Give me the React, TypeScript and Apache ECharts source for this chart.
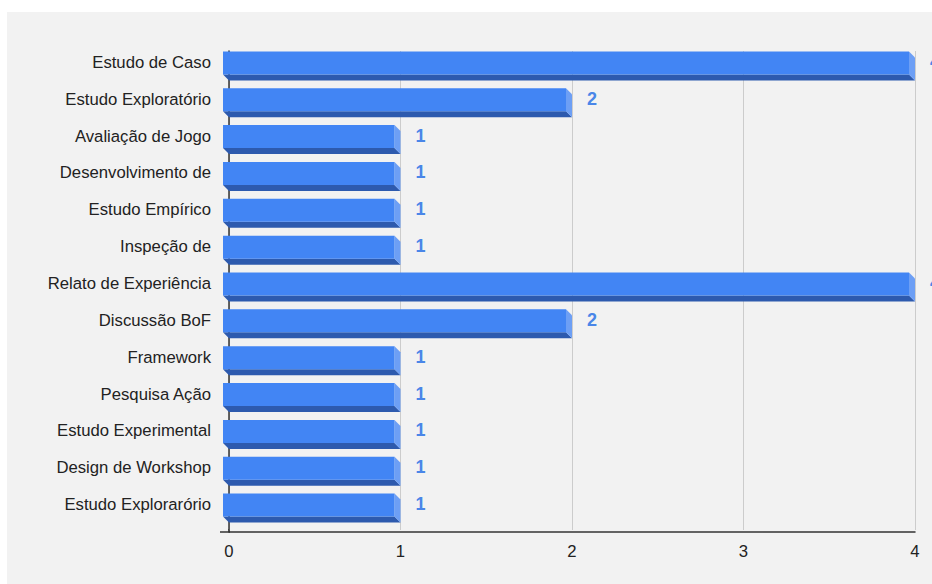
import React, { useEffect, useRef } from "react";
import * as echarts from "echarts";

const categories = [
  "Estudo de Caso",
  "Estudo Exploratório",
  "Avaliação de Jogo",
  "Desenvolvimento de",
  "Estudo Empírico",
  "Inspeção de",
  "Relato de Experiência",
  "Discussão BoF",
  "Framework",
  "Pesquisa Ação",
  "Estudo Experimental",
  "Design de Workshop",
  "Estudo Explorarório",
];
const values = [4, 2, 1, 1, 1, 1, 4, 2, 1, 1, 1, 1, 1];
const xTicks = [0, 1, 2, 3, 4];

const FONT = "'Liberation Sans', Arial, sans-serif";

export default function App() {
  const ref = useRef<HTMLDivElement>(null);
  useEffect(() => {
    if (!ref.current) return;
    const chart = echarts.init(ref.current, undefined, { renderer: "svg" });
    const D = 6;
    const H = 23;
    chart.setOption({
      animation: false,
      backgroundColor: "transparent",
      grid: { left: 229, right: 17, top: 51, bottom: 54 },
      graphic: [
        {
          type: "line",
          shape: { x1: 220, y1: 532, x2: 230, y2: 532 },
          style: { stroke: "#333", lineWidth: 1.5 },
        },
        {
          type: "line",
          shape: { x1: 229, y1: 529, x2: 229, y2: 532 },
          style: { stroke: "#333", lineWidth: 1.5 },
        },
      ],
      xAxis: {
        type: "value",
        min: xTicks[0],
        max: xTicks[xTicks.length - 1],
        interval: 1,
        offset: 2,
        axisLine: { show: true, lineStyle: { color: "#333", width: 1.5 } },
        axisTick: { show: false },
        splitLine: { show: true, lineStyle: { color: "#cccccc", width: 1 } },
        axisLabel: { color: "#222", fontSize: 16.7, fontFamily: FONT, margin: 11 },
      },
      yAxis: {
        type: "category",
        inverse: true,
        data: categories,
        axisLine: { show: true, lineStyle: { color: "#333", width: 1.5 } },
        axisTick: { show: false },
        splitLine: { show: false },
        axisLabel: {
          color: "#222",
          fontSize: 16.7,
          fontFamily: FONT,
          margin: 18,
          verticalAlign: "bottom",
          lineHeight: 14,
        },
      },
      series: [
        {
          type: "custom",
          clip: false,
          data: values.map((v, i) => [v, i]),
          encode: { x: 0, y: 1 },
          renderItem: (params: any, api: any) => {
            const v = api.value(0);
            const i = api.value(1);
            const end = api.coord([v, i]);
            const start = api.coord([0, i]);
            const x0 = start[0];
            const x1 = end[0];
            const cy = end[1] - 0.5;
            const yt = cy - H / 2;
            const yb = cy + H / 2;
            return {
              type: "group",
              children: [
                {
                  type: "polygon",
                  shape: {
                    points: [
                      [x0 - D, yb - D],
                      [x1 - D, yb - D],
                      [x1, yb],
                      [x0, yb],
                    ],
                  },
                  style: { fill: "#2d5aae" },
                },
                {
                  type: "polygon",
                  shape: {
                    points: [
                      [x1 - D, yt - D],
                      [x1, yt],
                      [x1, yb],
                      [x1 - D, yb - D],
                    ],
                  },
                  style: { fill: "#6d9ff5" },
                },
                {
                  type: "rect",
                  shape: { x: x0 - D, y: yt - D, width: x1 - x0, height: H },
                  style: { fill: "#4285f4" },
                },
                {
                  type: "text",
                  x: x1 + 15,
                  y: cy - D - 1,
                  style: {
                    text: String(v),
                    fill: "#4a86e8",
                    font: `bold 18px ${FONT}`,
                    verticalAlign: "middle",
                    align: "left",
                  },
                },
              ],
            };
          },
        },
      ],
    });
    return () => chart.dispose();
  }, []);
  return (
    <div style={{ position: "fixed", left: 0, top: 0, width: 932, height: 584, background: "#ffffff" }}>
      <div style={{ position: "absolute", left: 7, top: 12, right: 0, bottom: 0, background: "#f2f2f2" }} />
      <div ref={ref} style={{ position: "absolute", left: 0, top: 0, width: 932, height: 584 }} />
    </div>
  );
}
